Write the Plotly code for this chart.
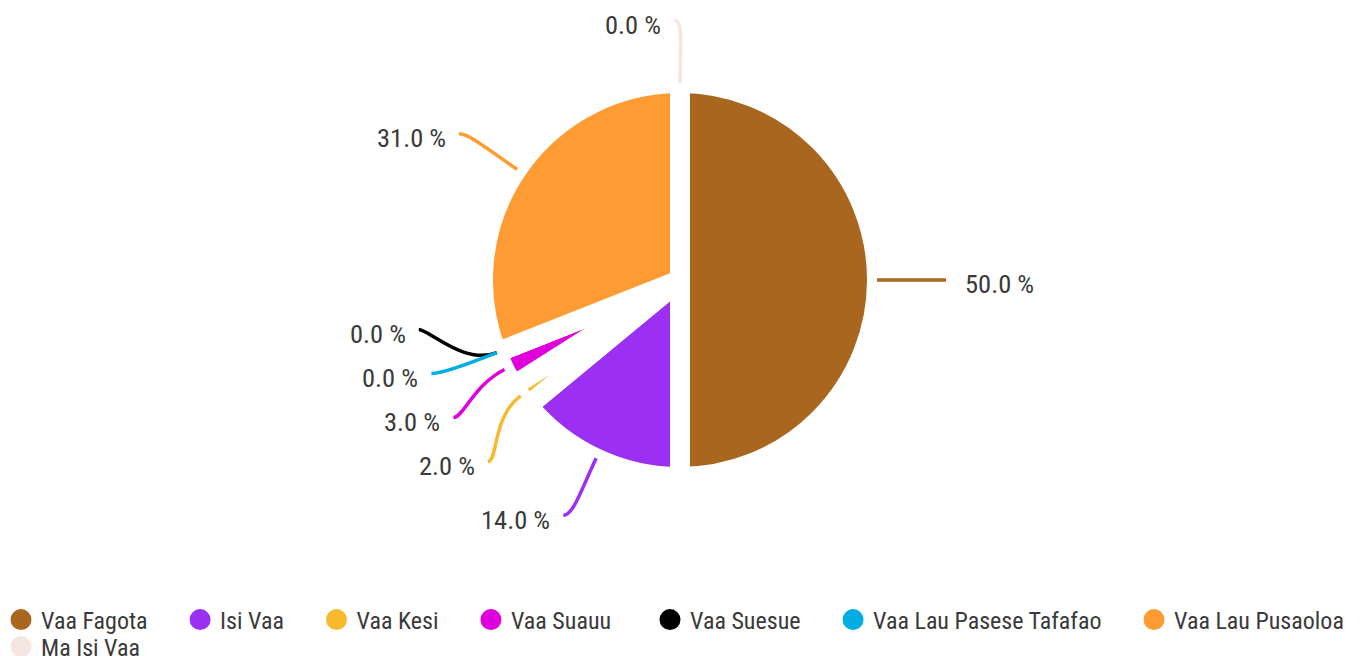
import math
import plotly.graph_objects as go

# ---- data ----
labels = ["Vaa Fagota", "Isi Vaa", "Vaa Kesi", "Vaa Suauu", "Vaa Suesue",
          "Vaa Lau Pasese Tafafao", "Vaa Lau Pusaoloa", "Ma Isi Vaa"]
values = [50, 14, 2, 3, 0, 0, 31, 0]
colors = ["#A8661F", "#9B30F2", "#F7BA2D", "#DF00DC", "#000000",
          "#00AEE3", "#FF9B33", "#F5E6E2"]
legend_groups = ["legend", "legend", "legend", "legend",
                 "legend3", "legend3", "legend3", "legend2"]

# ---- layout constants (pixels) ----
W, H = 1367, 656
CX, CY = 680, 280
R = 197          # pie radius
BORDER = 20      # white gap between slices
R_END = 260      # radius where label ticks end
HOOK = 6
GAP = 44         # min vertical spacing between labels
FONT = "Liberation Sans Narrow, Roboto Condensed, DejaVu Sans Condensed, sans-serif"
TXT = "#3a3a3a"
PAD = "\u00a0" * 5


def px(x):
    return x / W


def py(y):
    return 1 - y / H


total = sum(values)
pcts = [v / total * 100 for v in values]
mids = []
cum = 0
for v in values:
    mids.append((cum + v / 2) / total * 360)
    cum += v

# label placement (spread overlapping labels on each side)
sides = {1: [], -1: []}
side_of = {}
for i, a in enumerate(mids):
    s = 1 if 0 < a < 180 else -1
    side_of[i] = s
    ny = CY - R_END * math.cos(math.radians(a))
    sides[s].append((ny, i))


def span(c):
    m = sum(t[0] for t in c) / len(c)
    top = m - (len(c) - 1) / 2 * GAP
    return top, top + (len(c) - 1) * GAP


ypos = {}
for s, items in sides.items():
    items.sort()
    clusters = [[it] for it in items]
    merged = True
    while merged:
        merged = False
        for k in range(len(clusters) - 1):
            if span(clusters[k + 1])[0] - span(clusters[k])[1] < GAP:
                clusters[k] = clusters[k] + clusters.pop(k + 1)
                merged = True
                break
    for c in clusters:
        top, _ = span(c)
        for j, (ny, i) in enumerate(c):
            ypos[i] = top + j * GAP

fig = go.Figure()
fig.add_trace(go.Pie(
    labels=labels, values=values, sort=False, direction="clockwise", rotation=0,
    marker=dict(colors=colors, line=dict(color="white", width=BORDER)),
    textinfo="none", showlegend=False, hoverinfo="label+percent",
    domain=dict(x=[px(CX - R), px(CX + R)], y=[py(CY + R), py(CY - R)]),
))

for i, lab in enumerate(labels):
    last_in_row = (i + 1 == len(labels)) or legend_groups[i + 1] != legend_groups[i]
    fig.add_trace(go.Scatter(
        x=[None], y=[None], mode="markers",
        name=lab if last_in_row else lab + PAD,
        marker=dict(color=colors[i], size=16, line=dict(color=colors[i], width=5)),
        legend=legend_groups[i], hoverinfo="skip",
    ))

shapes = []
annotations = []
for i in range(len(values)):
    s = side_of[i]
    a = math.radians(mids[i])
    dx, dy = math.sin(a), -math.cos(a)
    x0, y0 = CX + R * dx, CY + R * dy
    x1, y1 = CX + (R + 35) * dx, CY + (R + 35) * dy
    ye = ypos[i]
    hh = math.sqrt(max(R_END ** 2 - (ye - CY) ** 2, 0))
    xe = CX + s * (hh + HOOK)
    x2, y2 = xe - s * 10, ye
    path = (f"M {px(x0)},{py(y0)} C {px(x1)},{py(y1)} "
            f"{px(x2)},{py(y2)} {px(xe)},{py(ye)}")
    shapes.append(dict(type="path", path=path, xref="paper", yref="paper",
                       line=dict(color=colors[i], width=3.5), layer="above"))
    annotations.append(dict(
        text=f"{pcts[i]:.1f} %", showarrow=False, xref="paper", yref="paper",
        x=px(xe + s * (17 if s > 0 else 11)), y=py(ye + 4),
        xanchor="left" if s > 0 else "right", yanchor="middle",
        font=dict(size=26.5, family=FONT, color=TXT),
    ))

legend_common = dict(orientation="h", xanchor="left", yanchor="middle",
                     font=dict(size=24, family=FONT, color=TXT),
                     bgcolor="rgba(0,0,0,0)", itemsizing="trace")
fig.update_layout(
    width=W, height=H,
    margin=dict(l=0, r=0, t=0, b=0, autoexpand=False),
    paper_bgcolor="white", plot_bgcolor="white",
    xaxis=dict(visible=False), yaxis=dict(visible=False),
    shapes=shapes, annotations=annotations,
    legend=dict(x=px(1), y=py(620), **legend_common),
    legend3=dict(x=px(650), y=py(620), **legend_common),
    legend2=dict(x=px(1), y=py(647), **legend_common),
    font=dict(family=FONT, color=TXT),
)

fig.write_html("out.html", config={"displayModeBar": False},
               post_script="document.body.style.margin='0';")
